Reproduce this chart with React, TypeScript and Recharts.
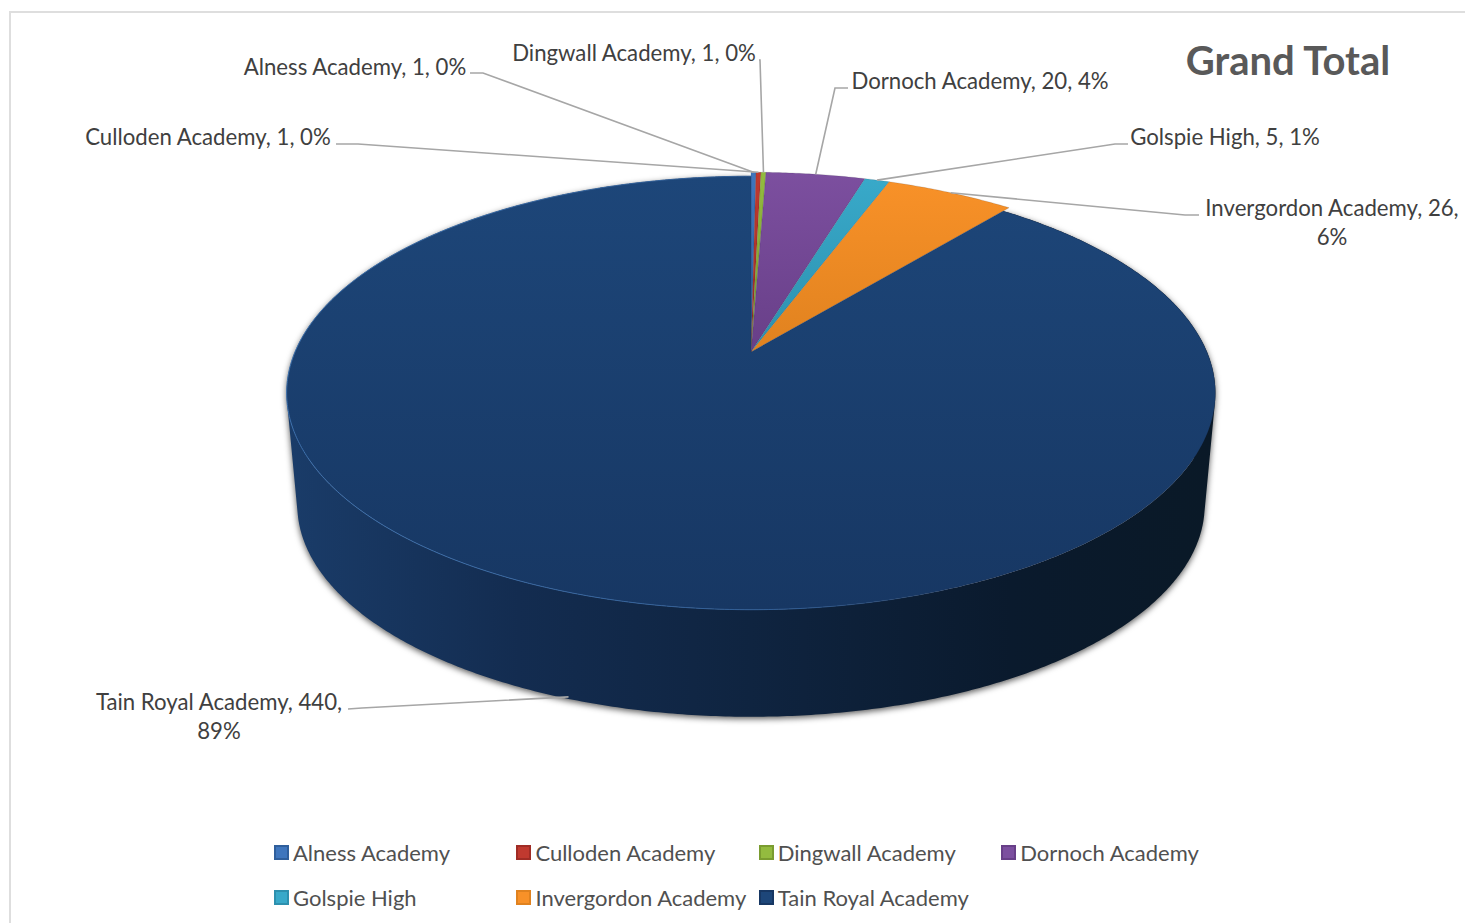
import { Legend, Pie, PieChart } from "recharts"

const names = [
  "Alness Academy",
  "Culloden Academy",
  "Dingwall Academy",
  "Dornoch Academy",
  "Golspie High",
  "Invergordon Academy",
  "Tain Royal Academy",
]
const values = [1, 1, 1, 20, 5, 26, 440]
const percents = [0, 0, 0, 4, 1, 6, 89] // as printed on the chart
const colours = ["#3f76bd", "#c0392f", "#93bb3f", "#7c4f9f", "#38a9c9", "#f89128", "#1d4679"]
const shades = ["#2f5f9c", "#a02c25", "#7a9c30", "#683f88", "#2d90ae", "#e0821f", "#173763"]

const data = names.map((name, i) => ({
  name,
  value: values[i],
  pct: percents[i],
  fill: colours[i],
  shade: shades[i],
}))

// label centre, leader start and elbow for each slice
const labelSpots: Record<string, { x: number; y: number; from: number[]; elbow: number[]; wrap?: boolean; wall?: boolean }> = {
  "Alness Academy": { x: 355, y: 68, from: [470, 73], elbow: [483, 73] },
  "Culloden Academy": { x: 208, y: 138, from: [336, 144], elbow: [358, 144] },
  "Dingwall Academy": { x: 634, y: 54, from: [759, 60], elbow: [760, 60] },
  "Dornoch Academy": { x: 980, y: 82, from: [848, 88], elbow: [835, 88] },
  "Golspie High": { x: 1225, y: 138, from: [1128, 144], elbow: [1115, 144] },
  "Invergordon Academy": { x: 1332, y: 209, from: [1199, 215], elbow: [1185, 215], wrap: true },
  "Tain Royal Academy": { x: 219, y: 703, from: [348, 709], elbow: [362, 708], wrap: true, wall: true },
}

const FONT = "Lato, 'Open Sans', sans-serif"
const TILT = 0.4583
const PERSPECTIVE = 0.189
const WALL_DEPTH = 113
const WALL_SCALE = 0.977
const LIFT = 1.023 // the small slices stand a little proud of the big one

function project(cx: number, cy: number, r: number, angle: number, lift = 1) {
  const a = (angle * Math.PI) / 180
  const w = 1 + PERSPECTIVE * Math.sin(a)
  return [cx + (lift * r * Math.cos(a)) / w, cy - (lift * r * TILT * Math.sin(a)) / w]
}

function projectWall(cx: number, cy: number, r: number, angle: number) {
  const [x, y] = project(cx, cy, r, angle)
  return [cx + WALL_SCALE * (x - cx), cy + WALL_SCALE * (y - cy) + WALL_DEPTH]
}

function arc(start: number, end: number, at: (angle: number) => number[]) {
  const steps = Math.max(2, Math.ceil(Math.abs(end - start) * 2))
  const pts: number[][] = []
  for (let i = 0; i <= steps; i++) pts.push(at(start + ((end - start) * i) / steps))
  return pts
}

const toPath = (pts: number[][]) => pts.map((p, i) => `${i ? "L" : "M"}${p[0].toFixed(2)},${p[1].toFixed(2)}`).join(" ")

// all quads wound the same way, or overlapping ones cancel under the fill rule
function wound(pts: number[][]) {
  const area = pts.reduce((sum, p, i) => {
    const q = pts[(i + 1) % pts.length]
    return sum + p[0] * q[1] - q[0] * p[1]
  }, 0)
  return area < 0 ? [...pts].reverse() : pts
}

function WallSector(props: any) {
  const { cx, cy, outerRadius, startAngle, endAngle, name } = props
  if (name !== names[6]) return <g />
  const top = arc(startAngle, endAngle, (a) => project(cx, cy, outerRadius, a))
  const bottom = arc(startAngle, endAngle, (a) => projectWall(cx, cy, outerRadius, a))
  // one quad per step, so the sides run straight between the two rims
  const quads = top.slice(1).map((p, i) => toPath(wound([top[i], p, bottom[i + 1], bottom[i]])) + " Z")
  return (
    <path
      d={quads.join(" ")}
      fill="url(#wallFill)"
      style={{ filter: "drop-shadow(0px 2px 3px rgba(0,0,0,0.65))" }}
    />
  )
}

function FaceSector(props: any) {
  const { cx, cy, outerRadius, startAngle, endAngle, name } = props
  const i = names.indexOf(name)
  const lift = i === 6 ? 1 : LIFT
  const rim = arc(startAngle, endAngle, (a) => project(cx, cy, outerRadius, a, lift))
  return (
    <g>
      <path
        d={`M${cx},${cy} ` + toPath(rim).replace("M", "L") + " Z"}
        fill={`url(#face${i})`}
        stroke="rgba(20,20,40,0.22)"
        strokeWidth={0.6}
      />
      {i === 6 && <path d={toPath(rim)} fill="none" stroke="url(#rimFill)" strokeWidth={1} />}
    </g>
  )
}

function SliceLabel(props: any) {
  const { cx, cy, outerRadius, midAngle, name, value, payload } = props
  const spot = labelSpots[name]
  const pct = payload?.pct ?? data[names.indexOf(name)].pct
  const end = spot.wall
    ? projectWall(cx, cy, outerRadius, midAngle)
    : project(cx, cy, outerRadius, midAngle, LIFT)
  const line = [spot.from, spot.elbow, [end[0], end[1] - (spot.wall ? 2 : 0)]]
  const head = spot.wrap ? `${name}, ${value},` : `${name}, ${value}, ${pct}%`
  return (
    <g>
      <polyline points={line.map((p) => p.join(",")).join(" ")} fill="none" stroke="#a6a6a6" strokeWidth={1.6} />
      <text x={spot.x} y={spot.y + 7} textAnchor="middle" fontFamily={FONT} fontSize={22.2} fill="#404040">
        {head}
      </text>
      {spot.wrap && (
        <text x={spot.x} y={spot.y + 36} textAnchor="middle" fontFamily={FONT} fontSize={22.2} fill="#404040">
          {pct}%
        </text>
      )}
    </g>
  )
}

function LegendRows({ payload }: any) {
  const items = (payload ?? []).filter((item: any) => item.type !== "none")
  return (
    <div style={{ display: "grid", gridTemplateColumns: "repeat(4, 242.4px)", rowGap: 17, fontFamily: FONT, fontSize: 22, color: "#505050" }}>
      {items.map((item: any) => {
        const shade = item.payload?.shade ?? shades[names.indexOf(item.value)]
        return (
          <div key={item.value} style={{ display: "flex", alignItems: "center", height: 28, whiteSpace: "nowrap" }}>
            <span
              style={{
                width: 15,
                height: 15,
                marginRight: 4,
                boxSizing: "border-box",
                background: item.color,
                border: `2.5px solid ${shade}`,
              }}
            />
            {item.value}
          </div>
        )
      })}
    </div>
  )
}

export default function App() {
  return (
    <div style={{ position: "absolute", left: 0, top: 0, width: 1465, height: 923, overflow: "hidden", background: "#fff" }}>
      <div style={{ position: "absolute", left: 9, top: 11, width: 1500, height: 1000, border: "2px solid #dedede" }} />
      <PieChart width={1465} height={923} margin={{ top: 0, right: 0, bottom: 0, left: 0 }}>
        <defs>
          {data.map((d, i) => (
            <linearGradient key={d.name} id={`face${i}`} x1="0" y1="0" x2="0" y2="1">
              <stop offset="0%" stopColor={d.fill} />
              <stop offset="100%" stopColor={d.shade} />
            </linearGradient>
          ))}
          <linearGradient id="wallFill" x1="0" y1="0" x2="1" y2="0">
            <stop offset="0%" stopColor="#1a3c69" />
            <stop offset="25%" stopColor="#132c50" />
            <stop offset="50%" stopColor="#0f2440" />
            <stop offset="78%" stopColor="#0a1a2d" />
            <stop offset="100%" stopColor="#0a1927" />
          </linearGradient>
          <linearGradient id="rimFill" x1="0" y1="0" x2="1" y2="0">
            <stop offset="0%" stopColor="#3f73b0" />
            <stop offset="55%" stopColor="#2f5c94" />
            <stop offset="75%" stopColor="#1d467b" stopOpacity={0} />
          </linearGradient>
        </defs>
        <text x={1288} y={75} textAnchor="middle" fontFamily={FONT} fontSize={40} fontWeight={700} fill="#595959">
          Grand Total
        </text>
        <Pie
          data={data}
          dataKey="value"
          nameKey="name"
          cx={751}
          cy={352}
          outerRadius={456}
          startAngle={90}
          endAngle={-270}
          stroke="none"
          legendType="none"
          shape={WallSector}
          isAnimationActive={false}
        />
        <Pie
          data={data}
          dataKey="value"
          nameKey="name"
          cx={751}
          cy={352}
          outerRadius={456}
          startAngle={90}
          endAngle={-270}
          stroke="none"
          shape={FaceSector}
          label={SliceLabel}
          labelLine={false}
          isAnimationActive={false}
        />
        <Legend
          content={LegendRows}
          wrapperStyle={{ position: "absolute", left: 274, top: 838, width: 1000, bottom: "auto" }}
        />
      </PieChart>
    </div>
  )
}
